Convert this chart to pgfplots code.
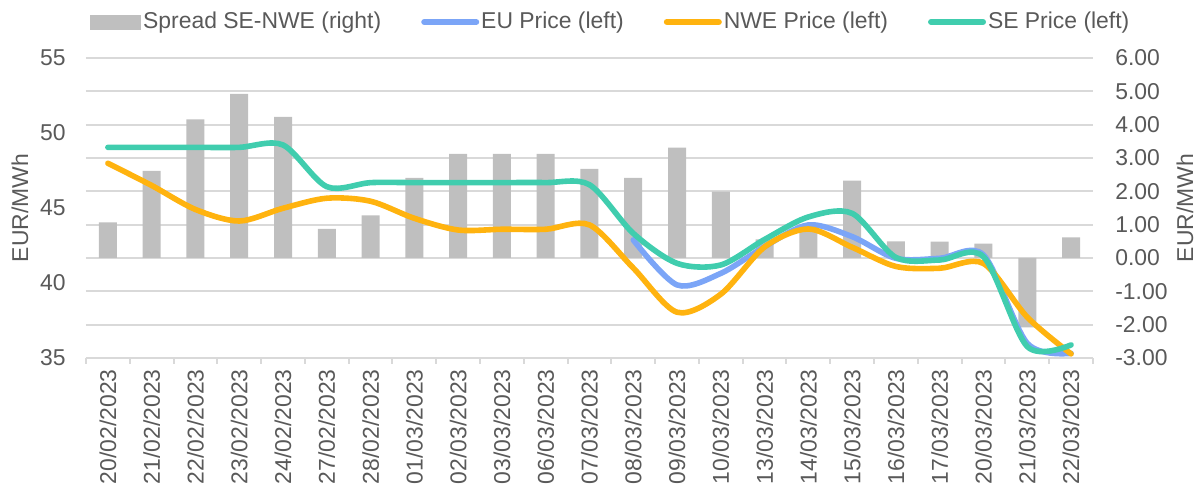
\documentclass[border=0pt]{standalone}
\usepackage{fontspec}
\setmainfont{Liberation Sans}
\usepackage{pgfplots}
\pgfplotsset{compat=1.18}
\definecolor{txt}{HTML}{595959}
\definecolor{gridc}{HTML}{D9D9D9}
\definecolor{barc}{HTML}{BFBFBF}
\definecolor{euc}{HTML}{7BA5F7}
\definecolor{nwec}{HTML}{FFB30F}
\definecolor{sec}{HTML}{40CDAE}
\begin{document}
\begin{tikzpicture}
\pgfplotsset{
  base/.style={scale only axis, width=503.5bp, height=150bp, xmin=-0.5, xmax=22.5,
    font=\fontsize{11.5}{13.8}\selectfont,
    tick label style={text=txt}, label style={text=txt},
    major tick length=0pt, minor tick length=3bp, tick align=outside,
    y axis line style={draw=none}, major y tick style={draw=none}},
  lleg/.style={legend image code/.code={\draw[##1, line width=3bp, line cap=round] (0bp,0bp) -- (26bp,0bp);}}
}
\begin{axis}[base, name=main, axis y line*=right, axis x line*=bottom,
  ymin=-3, ymax=6, ytick={-3,-2,...,6},
  yticklabels={-3.00,-2.00,-1.00,0.00,1.00,2.00,3.00,4.00,5.00,6.00},
  ymajorgrids, grid style={gridc, line width=1bp},
  x axis line style={gridc, line width=1bp, -},
  xtick={0,...,22},
  xticklabels={20/02/2023,21/02/2023,22/02/2023,23/02/2023,24/02/2023,27/02/2023,28/02/2023,01/03/2023,02/03/2023,03/03/2023,06/03/2023,07/03/2023,08/03/2023,09/03/2023,10/03/2023,13/03/2023,14/03/2023,15/03/2023,16/03/2023,17/03/2023,20/03/2023,21/03/2023,22/03/2023},
  major x tick style={draw=none},
  minor xtick={-0.5,0.5,...,22.5},
  minor x tick style={gridc, line width=1bp},
  xticklabel style={rotate=90, anchor=east, inner ysep=0pt, inner xsep=5.5bp},
  yticklabel style={anchor=west, inner ysep=0pt, inner xsep=11bp},
  ylabel={EUR/MWh},
  ylabel style={at={(axis description cs:1.0914,0.5)}, anchor=center}]
\addplot[ybar, bar width=9bp, fill=barc, draw=none] coordinates {
(0,1.07) (1,2.61) (2,4.16) (3,4.92) (4,4.23) (5,0.87) (6,1.28) (7,2.40) (8,3.12) (9,3.12) (10,3.12) (11,2.67) (12,2.40) (13,3.31) (14,1.99) (15,0.56) (16,0.79) (17,2.32) (18,0.50) (19,0.49) (20,0.43) (21,-2.08) (22,0.62)};
\end{axis}
\begin{axis}[base, axis y line*=left, hide x axis,
  ymin=35, ymax=55, ytick={35,40,...,55}, yticklabels={35,40,45,50,55},
  yticklabel style={anchor=east, inner ysep=0pt, inner xsep=10bp},
  ylabel={EUR/MWh},
  ylabel style={at={(axis description cs:-0.0655,0.5)}, anchor=center},
  legend style={at={(axis description cs:-0.002,1.12)}, anchor=west, draw=none, fill=none,
    legend columns=4, text=txt, nodes={inner sep=1bp},
    /tikz/every even column/.append style={column sep=19bp}},
  legend cell align=left]
\addlegendimage{legend image code/.code={\fill[barc] (0bp,-3.5bp) rectangle (25bp,3.5bp);}}
\addlegendentry{Spread SE-NWE (right)\hspace{3bp}}
\addplot[lleg, euc, line width=2.8bp, line cap=round, smooth, tension=0.5] coordinates {
(12,42.87) (13,39.87) (14,40.64) (15,42.42) (16,43.87) (17,43.09) (18,41.64) (19,41.64) (20,41.87) (21,35.98) (22,35.31)};
\addlegendentry{EU Price (left)}
\addplot[lleg, nwec, line width=2.8bp, line cap=round, smooth, tension=0.5] coordinates {
(0,47.98) (1,46.5) (2,44.9) (3,44.13) (4,44.98) (5,45.65) (6,45.45) (7,44.31) (8,43.53) (9,43.58) (10,43.58) (11,43.87) (12,41.0) (13,38.05) (14,39.25) (15,42.4) (16,43.6) (17,42.38) (18,41.1) (19,40.98) (20,41.3) (21,37.72) (22,35.27)};
\addlegendentry{NWE Price (left)}
\addplot[lleg, sec, line width=2.8bp, line cap=round, smooth, tension=0.5] coordinates {
(0,49.04) (1,49.04) (2,49.04) (3,49.04) (4,49.2) (5,46.42) (6,46.69) (7,46.69) (8,46.69) (9,46.69) (10,46.69) (11,46.55) (12,43.31) (13,41.31) (14,41.2) (15,42.9) (16,44.4) (17,44.64) (18,41.7) (19,41.53) (20,41.75) (21,35.76) (22,35.87)};
\addlegendentry{SE Price (left)}
\end{axis}
\path ([shift={(-43bp,-66.5bp)}]main.south west) rectangle ([shift={(53.5bp,29bp)}]main.north east);
\end{tikzpicture}
\end{document}
